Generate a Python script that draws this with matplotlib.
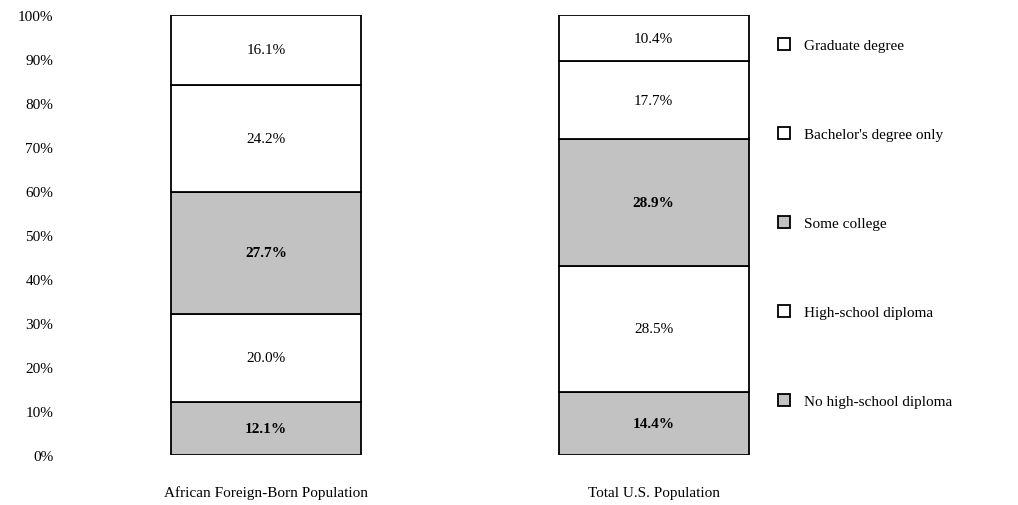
import matplotlib
matplotlib.use('Agg')
import matplotlib.pyplot as plt
import matplotlib.patches as mpatches
import numpy as np

# ── Data ──
groups = ['African Foreign-Born Population', 'Total U.S. Population']
levels = ['No high-school diploma', 'High-school diploma', 'Some college',
          "Bachelor's degree only", 'Graduate degree']
african = [12.1, 20.0, 27.7, 24.2, 16.1]
total_us = [14.4, 28.5, 28.9, 17.7, 10.4]
shaded = [True, False, True, False, False]

GREY = '#c2c2c2'
plt.rcParams['font.family'] = ['Liberation Serif', 'DejaVu Serif']

fig = plt.figure(figsize=(10.18, 5.06), dpi=100)
ax = fig.add_axes([70 / 1018, 50 / 506, 700 / 1018, 440 / 506])

x = np.arange(len(groups))
width = 0.49
values = np.array([african, total_us])
bottoms = np.zeros(len(groups))
for i, lvl in enumerate(levels):
    vals = values[:, i]
    fc = GREY if shaded[i] else 'white'
    ax.bar(x, vals, width, bottom=bottoms, color=fc, edgecolor='black', linewidth=1.3)
    for xi, b, v in zip(x, bottoms, vals):
        ax.text(xi, b + v / 2, f'{v:.1f}%', ha='center', va='center', fontsize=11,
                fontweight='bold' if shaded[i] else 'normal')
    bottoms += vals

ax.set_xlim(-0.506, 1.3)
ax.set_ylim(0, 100)
ax.set_yticks(np.arange(0, 101, 10))
ax.set_yticklabels([f'{t}%' for t in range(0, 101, 10)], fontsize=11)
ax.set_xticks(x)
ax.set_xticklabels(groups, fontsize=11)
ax.tick_params(axis='y', length=0, pad=12)
ax.tick_params(axis='x', length=0, pad=22)
for s in ax.spines.values():
    s.set_visible(False)

handles = [mpatches.Patch(facecolor=GREY if shaded[i] else 'white', edgecolor='black',
                          linewidth=1.3, label=levels[i]) for i in range(len(levels))][::-1]
fig.legend(handles=handles, loc='upper left', bbox_to_anchor=(772 / 1018, 1 - 33 / 506),
           frameon=False, fontsize=11, handlelength=0.8, handleheight=0.8,
           handletextpad=0.9, labelspacing=4.9, borderaxespad=0)

plt.savefig('out.png', dpi=100)
plt.close()
